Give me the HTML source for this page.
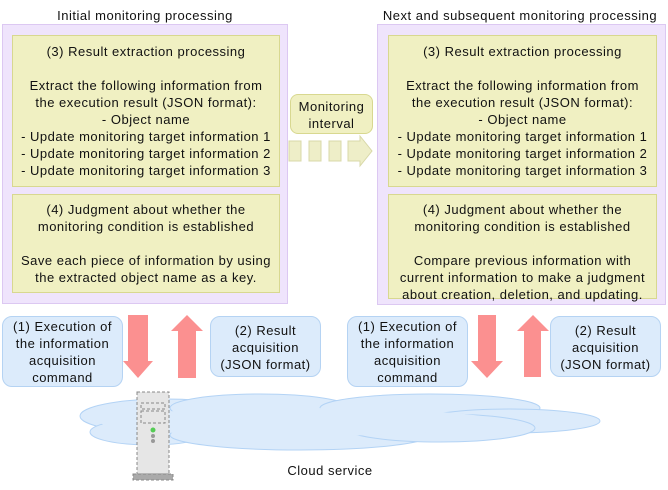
<!DOCTYPE html>
<html><head><meta charset="utf-8"><style>
body{margin:0;width:668px;height:490px;position:relative;background:#fff;font-family:"Liberation Sans",sans-serif;font-size:13px;letter-spacing:0.5px;color:#111;overflow:hidden}
.a{position:absolute;box-sizing:border-box;text-align:center;line-height:17px;white-space:nowrap}
.p{background:#efe4fc;border:1px solid #dcc8f2}
.y{background:#f0f0c2;border:1px solid #d8d890}
.b{background:#dcebfb;border:1px solid #b5d3f3;border-radius:10px}
</style></head><body>
<svg class="a" style="left:0;top:0" width="668" height="490">
<g fill="#dcebfb" stroke="#b3d3f5">
<ellipse cx="165" cy="416" rx="85" ry="17"/>
<ellipse cx="260" cy="408" rx="90" ry="14"/>
<ellipse cx="430" cy="408" rx="110" ry="14"/>
<ellipse cx="510" cy="421" rx="90" ry="12"/>
<ellipse cx="150" cy="432" rx="60" ry="13"/>
<ellipse cx="300" cy="435" rx="130" ry="15"/>
<ellipse cx="440" cy="428" rx="95" ry="14"/>
</g>
<g fill="#dcebfb" stroke="none">
<ellipse cx="300" cy="422" rx="200" ry="14"/>
</g>
<g fill="#fb9090">
<polygon points="128,315 148,315 148,361 153,361 138,378 123,361 128,361"/>
<polygon points="178,378 196,378 196,331 203,331 187,315 171,331 178,331"/>
<polygon points="478,315 496,315 496,361 503,361 487,378 471,361 478,361"/>
<polygon points="524,377 541,377 541,331 549,331 533,315 517,331 524,331"/>
</g>
<g fill="#eeeec8" stroke="#d8d8a8">
<rect x="289" y="141" width="12" height="20"/>
<rect x="309" y="141" width="12" height="20"/>
<rect x="329" y="141" width="12" height="20"/>
<polygon points="348,141 360,141 360,136 372,151 360,166 360,161 348,161"/>
</g>
<g stroke="#888" stroke-dasharray="3,2" fill="#e6e6e6">
<rect x="137" y="392" width="32" height="82"/>
<rect x="133" y="474" width="40" height="6" fill="#aaa"/>
<rect x="141" y="403" width="24" height="6"/>
<rect x="141" y="411" width="24" height="12"/>
</g>
<circle cx="153" cy="430" r="2.5" fill="#5c5"/>
<circle cx="153" cy="436" r="2" fill="#999"/>
<circle cx="153" cy="441" r="2" fill="#999"/>
</svg>
<div class="a" style="left:2px;top:7px;width:286px">Initial monitoring processing</div>
<div class="a" style="left:372px;top:7px;width:296px">Next and subsequent monitoring processing</div>
<div class="a p" style="left:2px;top:24px;width:286px;height:280px"></div>
<div class="a p" style="left:377px;top:24px;width:289px;height:281px"></div>
<div class="a y" style="left:12px;top:35px;width:268px;height:152px;padding-top:7px">(3) Result extraction processing<br><br>Extract the following information from<br>the execution result (JSON format):<br>- Object name<br>- Update monitoring target information 1<br>- Update monitoring target information 2<br>- Update monitoring target information 3</div>
<div class="a y" style="left:388px;top:35px;width:269px;height:152px;padding-top:7px">(3) Result extraction processing<br><br>Extract the following information from<br>the execution result (JSON format):<br>- Object name<br>- Update monitoring target information 1<br>- Update monitoring target information 2<br>- Update monitoring target information 3</div>
<div class="a y" style="left:12px;top:194px;width:268px;height:99px;padding-top:6px">(4) Judgment about whether the<br>monitoring condition is established<br><br>Save each piece of information by using<br>the extracted object name as a key.</div>
<div class="a y" style="left:388px;top:194px;width:269px;height:105px;padding-top:6px">(4) Judgment about whether the<br>monitoring condition is established<br><br>Compare previous information with<br>current information to make a judgment<br>about creation, deletion, and updating.</div>
<div class="a y" style="left:290px;top:94px;width:83px;height:40px;border-radius:8px;padding-top:3px">Monitoring<br>interval</div>
<div class="a b" style="left:2px;top:316px;width:121px;height:71px;padding-top:1px">(1) Execution of<br>the information<br>acquisition<br>command</div>
<div class="a b" style="left:210px;top:316px;width:111px;height:61px;padding-top:5px">(2) Result<br>acquisition<br>(JSON format)</div>
<div class="a b" style="left:347px;top:316px;width:121px;height:71px;padding-top:1px">(1) Execution of<br>the information<br>acquisition<br>command</div>
<div class="a b" style="left:550px;top:316px;width:111px;height:61px;padding-top:5px">(2) Result<br>acquisition<br>(JSON format)</div>
<div class="a" style="left:270px;top:462px;width:120px">Cloud service</div>
</body></html>
